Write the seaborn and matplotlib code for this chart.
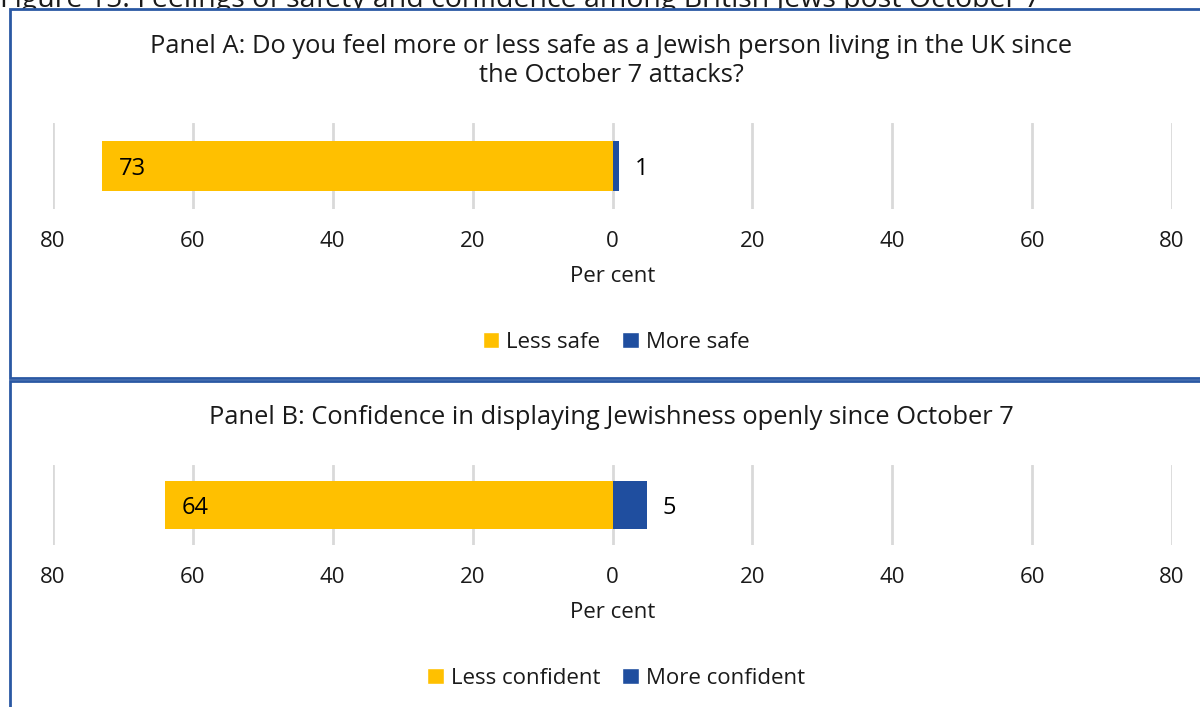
import matplotlib
matplotlib.use("Agg")
import matplotlib.pyplot as plt
from matplotlib.patches import Rectangle, Patch
import seaborn as sns
import pandas as pd

# Survey results (per cent)
panel_titles = [
    "Panel A: Do you feel more or less safe as a Jewish person living in the UK since\nthe October 7 attacks?",
    "Panel B: Confidence in displaying Jewishness openly since October 7",
]
less_values = [73, 64]
more_values = [1, 5]
less_names = ["Less safe", "Less confident"]
more_names = ["More safe", "More confident"]
tick_values = [-80, -60, -40, -20, 0, 20, 40, 60, 80]
tick_labels = ["80", "60", "40", "20", "0", "20", "40", "60", "80"]
figure_title = "Figure 15: Feelings of safety and confidence among British Jews post October 7"

YELLOW = "#FFC000"
BLUE = "#1F4E9F"
FRAME = "#2A58A3"
GRID = "#D9D9D9"
TEXT = "#1a1a1a"

sns.set_theme(style="white")
plt.rcParams["font.family"] = ["Open Sans", "DejaVu Sans"]

W, H = 1200, 707
fig = plt.figure(figsize=(W / 100, H / 100), dpi=100)
fig.patch.set_facecolor("white")


def fx(px):
    return px / W


def fy(py):
    return 1 - py / H


# Report heading, partly hidden behind the panel frames
fig.text(fx(0), fy(7), figure_title, ha="left", va="baseline",
         fontsize=20.5, color=TEXT, zorder=0.5)

# Panel frames
for top, bottom in [(9, 378), (381, 720)]:
    fig.patches.append(Rectangle((fx(10), fy(bottom)), 1.1, (bottom - top) / H,
                                 transform=fig.transFigure, facecolor="white",
                                 edgecolor=FRAME, linewidth=2, zorder=1))

# Axes geometry in pixels: (top, bottom) of the plotting band
bands = [(123, 209), (465, 545)]
title_y = [61, 417]
legend_y = [342, 678]
bar_width = [0.58, 0.59]

for i in range(2):
    top, bottom = bands[i]
    ax = fig.add_axes([fx(53), fy(bottom), fx(1119), (bottom - top) / H])
    ax.set_zorder(2)
    ax.set_facecolor("none")

    df = pd.DataFrame({
        "row": ["r", "r"],
        "value": [-less_values[i], more_values[i]],
        "group": [less_names[i], more_names[i]],
    })
    sns.barplot(data=df, x="value", y="row", hue="group",
                palette=[YELLOW, BLUE], dodge=False, width=bar_width[i],
                orient="h", ax=ax, legend=False, saturation=1,
                linewidth=0, zorder=3)

    ax.set_xlim(-80, 80)
    ax.set_ylim(0.5, -0.5)
    ax.set_xticks(tick_values)
    ax.set_xticklabels(tick_labels)
    ax.set_yticks([])
    ax.set_ylabel("")
    ax.tick_params(axis="x", length=0, pad=16, labelsize=16, labelcolor=TEXT)
    ax.set_xlabel("Per cent", fontsize=16, color=TEXT, labelpad=10)
    for s in ax.spines.values():
        s.set_visible(False)
    for t in tick_values:
        ax.axvline(t, color=GRID, linewidth=2, zorder=1)

    # Value labels
    ax.text(-less_values[i] + 2.4, 0, str(less_values[i]), ha="left",
            va="center_baseline", fontsize=17, color="black", zorder=4)
    ax.text(more_values[i] + 2.2, 0, str(more_values[i]), ha="left",
            va="center_baseline", fontsize=17, color="black", zorder=4)

    fig.text(fx(611), fy(title_y[i]), panel_titles[i], ha="center",
             va="center", fontsize=18.4, color=TEXT, linespacing=1.22,
             zorder=3)

    handles = [Patch(facecolor=YELLOW, label=less_names[i]),
               Patch(facecolor=BLUE, label=more_names[i])]
    fig.legend(handles=handles, loc="center", ncol=2, frameon=False,
               bbox_to_anchor=(fx(616), fy(legend_y[i])), fontsize=16,
               handlelength=0.75, handleheight=0.75, handletextpad=0.3,
               columnspacing=1.0, labelcolor=TEXT)

fig.savefig("out.png", dpi=100)
